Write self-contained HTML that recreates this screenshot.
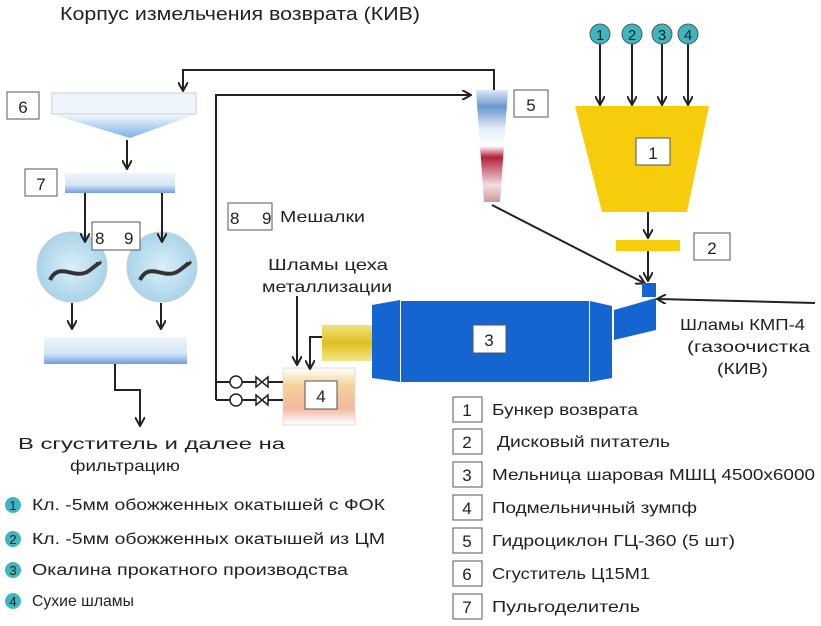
<!DOCTYPE html>
<html><head><meta charset="utf-8"><style>
body{margin:0;background:#fff}
svg{display:block}
text{font-family:"Liberation Sans","DejaVu Sans",sans-serif;fill:#222}
</style></head><body>
<svg width="821" height="626" viewBox="0 0 821 626" xmlns="http://www.w3.org/2000/svg">
<defs>
<marker id="a" markerWidth="10" markerHeight="10" refX="8" refY="5" orient="auto" markerUnits="userSpaceOnUse"><path d="M0,0 L9,5 L0,10" fill="none" stroke="#222" stroke-width="2"/></marker>
<linearGradient id="bar" x1="0" y1="0" x2="0" y2="1"><stop offset="0" stop-color="#eef5fb"/><stop offset="0.6" stop-color="#d5e6f5"/><stop offset="1" stop-color="#6f9fdc"/></linearGradient>
<linearGradient id="cone" x1="0" y1="0" x2="0" y2="1"><stop offset="0" stop-color="#eef5fb"/><stop offset="1" stop-color="#7eb0e6"/></linearGradient>
<linearGradient id="cyc" x1="0" y1="0" x2="0" y2="1"><stop offset="0" stop-color="#dde8f5"/><stop offset="0.15" stop-color="#6b96cf"/><stop offset="0.35" stop-color="#e5eef8"/><stop offset="0.5" stop-color="#fff"/><stop offset="0.6" stop-color="#b0223a"/><stop offset="0.85" stop-color="#f4dde1"/><stop offset="1" stop-color="#c99"/></linearGradient>
<linearGradient id="yel" x1="0" y1="0" x2="0" y2="1"><stop offset="0" stop-color="#f2e27a"/><stop offset="0.5" stop-color="#e0c020"/><stop offset="1" stop-color="#f3e68a"/></linearGradient>
<linearGradient id="zump" x1="0" y1="0" x2="0" y2="1"><stop offset="0" stop-color="#fff"/><stop offset="0.3" stop-color="#f6d39a"/><stop offset="0.7" stop-color="#f3b8a0"/><stop offset="1" stop-color="#fff"/></linearGradient>
<radialGradient id="mix"><stop offset="0" stop-color="#dbeef8"/><stop offset="1" stop-color="#a9d4ea"/></radialGradient>
</defs>

<text x="60" y="20" font-size="18" textLength="360" lengthAdjust="spacingAndGlyphs">Корпус измельчения возврата (КИВ)</text>

<g stroke="#222" stroke-width="2" marker-end="url(#a)">
<line x1="600" y1="44" x2="600" y2="104"/>
<line x1="632" y1="44" x2="632" y2="104"/>
<line x1="662" y1="44" x2="662" y2="104"/>
<line x1="688" y1="44" x2="688" y2="104"/>
</g>
<g font-size="15" text-anchor="middle">
<circle cx="600" cy="34" r="10" fill="#3fb6bf" stroke="#555"/><text x="600" y="40">1</text>
<circle cx="632" cy="34" r="10" fill="#3fb6bf" stroke="#555"/><text x="632" y="40">2</text>
<circle cx="662" cy="34" r="10" fill="#3fb6bf" stroke="#555"/><text x="662" y="40">3</text>
<circle cx="688" cy="34" r="10" fill="#3fb6bf" stroke="#555"/><text x="688" y="40">4</text>
</g>

<polygon points="575,106 709,106 687,212 602,212" fill="#f7cc0a"/>
<rect x="636" y="138" width="34" height="27" fill="#fff" stroke="#555"/>
<text x="653" y="159" font-size="17" text-anchor="middle">1</text>
<line x1="648" y1="212" x2="648" y2="237" stroke="#222" stroke-width="2" marker-end="url(#a)"/>
<rect x="616" y="240" width="64" height="11" fill="#f7cc0a"/>
<rect x="694" y="233" width="36" height="27" fill="#fff" stroke="#555"/>
<text x="712" y="254" font-size="17" text-anchor="middle">2</text>
<line x1="648" y1="251" x2="648" y2="280" stroke="#222" stroke-width="2" marker-end="url(#a)"/>

<polygon points="476,90 508,90 500,202 484,202" fill="url(#cyc)"/>
<rect x="514" y="90" width="34" height="27" fill="#fff" stroke="#555"/>
<text x="531" y="111" font-size="17" text-anchor="middle">5</text>
<line x1="492" y1="205" x2="644" y2="283" stroke="#222" stroke-width="2" marker-end="url(#a)"/>

<rect x="642" y="283" width="14" height="14" fill="#1565d0"/>
<polygon points="372,305 400,300 400,382 372,378" fill="#1565d0"/>
<rect x="401" y="301" width="188" height="81" fill="#1565d0"/>
<polygon points="590,301 612,306 612,378 590,382" fill="#1565d0"/>
<polygon points="614,310 656,298 656,330 614,340" fill="#1565d0"/>
<rect x="473" y="325" width="33" height="28" fill="#fff" stroke="#555"/>
<text x="489" y="346" font-size="17" text-anchor="middle">3</text>
<rect x="322" y="325" width="50" height="36" fill="url(#yel)"/>
<line x1="815" y1="303" x2="658" y2="299" stroke="#222" stroke-width="2" marker-end="url(#a)"/>
<text x="680" y="330" font-size="16" textLength="125" lengthAdjust="spacingAndGlyphs">Шламы КМП-4</text>
<text x="687" y="352" font-size="16" textLength="123" lengthAdjust="spacingAndGlyphs">(газоочистка</text>
<text x="717" y="374" font-size="16" textLength="51" lengthAdjust="spacingAndGlyphs">(КИВ)</text>

<rect x="283" y="368" width="72" height="57" fill="url(#zump)" stroke="#ddd"/>
<rect x="305" y="381" width="32" height="28" fill="#fff" stroke="#555"/>
<text x="321" y="402" font-size="17" text-anchor="middle">4</text>
<polyline points="322,337 310,337 310,368" fill="none" stroke="#222" stroke-width="2" marker-end="url(#a)"/>
<line x1="297" y1="296" x2="297" y2="364" stroke="#222" stroke-width="2" marker-end="url(#a)"/>
<text x="268" y="270" font-size="16" textLength="120" lengthAdjust="spacingAndGlyphs">Шламы цеха</text>
<text x="262" y="292" font-size="16" textLength="130" lengthAdjust="spacingAndGlyphs">металлизации</text>

<g stroke="#222" stroke-width="2" fill="none">
<line x1="283" y1="382" x2="216" y2="382"/>
<line x1="283" y1="400" x2="216" y2="400"/>
<polyline points="216,400 216,95 470,95" marker-end="url(#a)"/>
<polyline points="494,90 494,70 183,70 183,90" marker-end="url(#a)"/>
</g>
<g stroke="#222" stroke-width="1.5" fill="#fff">
<circle cx="236" cy="382" r="6"/><circle cx="236" cy="400" r="6"/>
<path d="M256,377 L268,387 L268,377 L256,387Z"/>
<path d="M256,395 L268,405 L268,395 L256,405Z"/>
</g>

<rect x="7" y="92" width="32" height="27" fill="#fff" stroke="#555"/>
<text x="23" y="113" font-size="17" text-anchor="middle">6</text>
<rect x="52" y="93" width="144" height="21" fill="#eef5fb" stroke="#ccd"/>
<polygon points="54,115 194,115 130,138" fill="url(#cone)"/>
<line x1="127" y1="140" x2="127" y2="168" stroke="#222" stroke-width="2" marker-end="url(#a)"/>
<rect x="25" y="169" width="32" height="27" fill="#fff" stroke="#555"/>
<text x="41" y="190" font-size="17" text-anchor="middle">7</text>
<rect x="65" y="173" width="110" height="20" fill="url(#bar)"/>
<circle cx="72" cy="267" r="35" fill="url(#mix)" stroke="#ccc"/>
<circle cx="162" cy="267" r="35" fill="url(#mix)" stroke="#ccc"/>
<line x1="85" y1="193" x2="85" y2="241" stroke="#222" stroke-width="2" marker-end="url(#a)"/>
<line x1="162" y1="193" x2="162" y2="241" stroke="#222" stroke-width="2" marker-end="url(#a)"/>
<path d="M50,280 C60,260 75,282 90,270 S98,265 98,262" fill="none" stroke="#333" stroke-width="4"/>
<path d="M140,280 C150,260 165,282 180,270 S188,265 188,262" fill="none" stroke="#333" stroke-width="4"/>
<rect x="92" y="222" width="48" height="28" fill="#fff" stroke="#555"/>
<text x="95" y="244" font-size="17">8</text><text x="124" y="244" font-size="17">9</text>
<line x1="72" y1="303" x2="72" y2="328" stroke="#222" stroke-width="2" marker-end="url(#a)"/>
<line x1="161" y1="303" x2="161" y2="328" stroke="#222" stroke-width="2" marker-end="url(#a)"/>
<rect x="44" y="337" width="143" height="27" fill="url(#bar)"/>
<polyline points="115,364 115,390 140,390 140,425" fill="none" stroke="#222" stroke-width="2" marker-end="url(#a)"/>
<text x="18" y="449" font-size="16" textLength="267" lengthAdjust="spacingAndGlyphs">В сгуститель и далее на</text>
<text x="70" y="471" font-size="16" textLength="110" lengthAdjust="spacingAndGlyphs">фильтрацию</text>

<rect x="228" y="203" width="44" height="27" fill="#fff" stroke="#555"/>
<text x="230" y="224" font-size="17">8</text><text x="262" y="224" font-size="17">9</text>
<text x="280" y="222" font-size="16" textLength="85" lengthAdjust="spacingAndGlyphs">Мешалки</text>

<g font-size="16">
<rect x="453" y="397" width="29" height="25" fill="#fff" stroke="#555"/><text x="467" y="416" text-anchor="middle" font-size="17">1</text><text x="492" y="415" textLength="146" lengthAdjust="spacingAndGlyphs">Бункер возврата</text>
<rect x="453" y="429" width="29" height="25" fill="#fff" stroke="#555"/><text x="467" y="448" text-anchor="middle" font-size="17">2</text><text x="497" y="447" textLength="173" lengthAdjust="spacingAndGlyphs">Дисковый питатель</text>
<rect x="453" y="462" width="29" height="25" fill="#fff" stroke="#555"/><text x="467" y="481" text-anchor="middle" font-size="17">3</text><text x="492" y="480" textLength="323" lengthAdjust="spacingAndGlyphs">Мельница шаровая МШЦ 4500х6000</text>
<rect x="453" y="495" width="29" height="25" fill="#fff" stroke="#555"/><text x="467" y="514" text-anchor="middle" font-size="17">4</text><text x="492" y="513" textLength="205" lengthAdjust="spacingAndGlyphs">Подмельничный зумпф</text>
<rect x="453" y="528" width="29" height="25" fill="#fff" stroke="#555"/><text x="467" y="547" text-anchor="middle" font-size="17">5</text><text x="492" y="546" textLength="243" lengthAdjust="spacingAndGlyphs">Гидроциклон ГЦ-360 (5 шт)</text>
<rect x="453" y="561" width="29" height="25" fill="#fff" stroke="#555"/><text x="467" y="580" text-anchor="middle" font-size="17">6</text><text x="492" y="579" textLength="158" lengthAdjust="spacingAndGlyphs">Сгуститель Ц15М1</text>
<rect x="453" y="594" width="29" height="25" fill="#fff" stroke="#555"/><text x="467" y="613" text-anchor="middle" font-size="17">7</text><text x="492" y="612" textLength="148" lengthAdjust="spacingAndGlyphs">Пульгоделитель</text>
</g>

<g font-size="16">
<circle cx="13" cy="505" r="8" fill="#3fb6bf"/><text x="13" y="510" text-anchor="middle" font-size="13">1</text><text x="32" y="510" textLength="353" lengthAdjust="spacingAndGlyphs">Кл. -5мм обожженных окатышей с ФОК</text>
<circle cx="13" cy="539" r="8" fill="#3fb6bf"/><text x="13" y="544" text-anchor="middle" font-size="13">2</text><text x="32" y="544" textLength="353" lengthAdjust="spacingAndGlyphs">Кл. -5мм обожженных окатышей из ЦМ</text>
<circle cx="13" cy="570" r="8" fill="#3fb6bf"/><text x="13" y="575" text-anchor="middle" font-size="13">3</text><text x="32" y="575" textLength="316" lengthAdjust="spacingAndGlyphs">Окалина прокатного производства</text>
<circle cx="13" cy="601" r="8" fill="#3fb6bf"/><text x="13" y="606" text-anchor="middle" font-size="13">4</text><text x="32" y="606" textLength="102" lengthAdjust="spacingAndGlyphs">Сухие шламы</text>
</g>
</svg>
</body></html>
